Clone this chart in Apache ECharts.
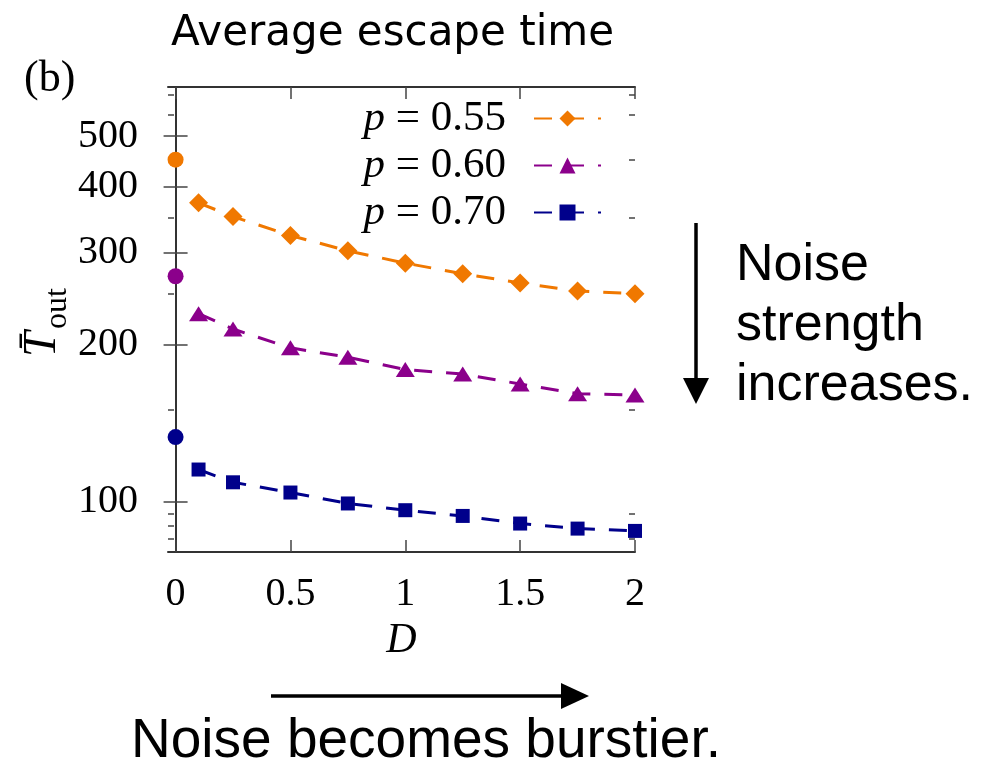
<!DOCTYPE html>
<html>
<head>
<meta charset="utf-8">
<script src="https://cdn.jsdelivr.net/npm/echarts@6/dist/echarts.min.js"></script>
<style>
  html, body { margin: 0; padding: 0; background: #fff; }
  #chart { width: 996px; height: 767px; }
</style>
</head>
<body>
<div id="chart"></div>
<script>
// Noise strength D on the x axis
const D = [0.1, 0.25, 0.5, 0.75, 1, 1.25, 1.5, 1.75, 2];
// Average escape time for each p (log-scaled y axis)
const T055 = [373, 351, 323, 302, 286, 273, 262, 253, 250];
const T060 = [229, 214, 197, 189, 179, 175.5, 168, 161, 160];
const T070 = [115.3, 109, 104.2, 99.3, 96.4, 94, 90.9, 88.9, 88];
// Noise-free values at D = 0, one per p
const T0 = [451, 270, 133];
const pLabels = ['0.55', '0.60', '0.70'];

// Tick positions
const xTicks = [0, 0.5, 1, 1.5, 2];
const yMajor = [100, 200, 300, 400, 500];
const yMinor = [85, 90, 95, 150, 250, 350, 450, 550, 600];

const colors = ['#f07800', '#8b008b', '#00008b'];
const serif = 'Liberation Serif';
const sans = 'Liberation Sans';
const frame = '#333';

const X_MIN = -0.033, X_MAX = 2;
const Y_MIN = 80.2, Y_MAX = 621;

function xAxisDef(pos, withLabels) {
  return {
    type: 'value', position: pos, min: X_MIN, max: X_MAX,
    axisLine: { show: true, lineStyle: { color: frame, width: 2 } },
    axisTick: { show: true, inside: true, length: 12, customValues: xTicks,
                lineStyle: { color: '#444', width: 1.5 } },
    axisLabel: withLabels
      ? { show: true, customValues: xTicks, margin: 22, color: '#000',
          fontFamily: serif, fontSize: 40 }
      : { show: false },
    splitLine: { show: false },
    name: withLabels ? 'D' : '',
    nameLocation: 'middle', nameGap: 68,
    nameTextStyle: { fontFamily: serif, fontStyle: 'italic', fontSize: 42, color: '#000' }
  };
}

function yAxisDef(pos, ticks, len, withLine, withLabels) {
  return {
    type: 'log', logBase: 10, position: pos, min: Y_MIN, max: Y_MAX,
    axisLine: { show: withLine, lineStyle: { color: frame, width: 2 } },
    axisTick: { show: true, inside: true, length: len, customValues: ticks,
                lineStyle: { color: '#444', width: 1.5 } },
    axisLabel: withLabels
      ? { show: true, customValues: yMajor, margin: 30, color: '#000',
          fontFamily: serif, fontSize: 40 }
      : { show: false },
    splitLine: { show: false }
  };
}

const symbols = ['diamond', 'triangle', 'rect'];
const symbolSizes = [19, [19, 15], 14];
const seriesData = [T055, T060, T070];

const lineSeries = seriesData.map((vals, k) => ({
  name: pLabels[k],
  type: 'line',
  xAxisIndex: 0, yAxisIndex: 0,
  data: D.map((d, i) => [d, vals[i]]),
  symbol: symbols[k],
  symbolSize: symbolSizes[k],
  showSymbol: true,
  lineStyle: { color: colors[k], width: 3, type: [18, 14] },
  itemStyle: { color: colors[k], opacity: 1 },
  z: 3
}));

const zeroSeries = {
  name: 'D0',
  type: 'scatter',
  xAxisIndex: 0, yAxisIndex: 0,
  symbol: 'circle', symbolSize: 16,
  data: T0.map((v, k) => ({ value: [0, v], itemStyle: { color: colors[k], opacity: 1 } })),
  z: 4
};

const chart = echarts.init(document.getElementById('chart'), null, { renderer: 'canvas' });

chart.setOption({
  animation: false,
  backgroundColor: '#fff',
  grid: { left: 168, top: 87, width: 467, height: 465, containLabel: false },
  xAxis: [xAxisDef('bottom', true), xAxisDef('top', false)],
  yAxis: [
    yAxisDef('left', yMajor, 12, true, true),
    yAxisDef('right', yMajor, 12, true, false),
    yAxisDef('left', yMinor, 6, false, false),
    yAxisDef('right', yMinor, 6, false, false)
  ],
  legend: {
    data: pLabels,
    orient: 'vertical',
    right: 389, top: 92,
    align: 'right',
    itemWidth: 67, itemHeight: 20, itemGap: 4,
    selectedMode: false,
    formatter: n => '{i|p} = ' + n,
    textStyle: {
      fontFamily: serif, fontSize: 43, color: '#000', lineHeight: 42,
      padding: [0, 23, 0, 0],
      rich: { i: { fontFamily: serif, fontStyle: 'italic', fontSize: 43, color: '#000' } }
    }
  },
  series: [...lineSeries, zeroSeries],
  graphic: [
    // Title
    { type: 'text', left: 171, top: 13,
      style: { text: 'Average escape time', fontFamily: 'DejaVu Sans', fontSize: 42, fill: '#000' } },
    // Panel letter
    { type: 'text', left: 24, top: 57,
      style: { text: '(b)', fontFamily: serif, fontSize: 44, fill: '#000' } },
    // Y axis title: T-bar with subscript "out", rotated
    { type: 'group', x: 66, y: 357, rotation: Math.PI / 2,
      children: [
        { type: 'text', x: 0, y: 0,
          style: { text: 'T\u0304', fontFamily: serif, fontStyle: 'italic', fontSize: 46, fill: '#000',
                   align: 'left', verticalAlign: 'bottom' } },
        { type: 'text', x: 28, y: 8,
          style: { text: 'out', fontFamily: serif, fontSize: 32, fill: '#000',
                   align: 'left', verticalAlign: 'bottom' } }
      ] },
    // Vertical arrow
    { type: 'line', shape: { x1: 696, y1: 223, x2: 696, y2: 382 },
      style: { stroke: '#000', lineWidth: 3.5 } },
    { type: 'polygon', shape: { points: [[683, 378], [709, 378], [696, 404]] },
      style: { fill: '#000' } },
    { type: 'text', x: 736, y: 236,
      style: { text: 'Noise\nstrength\nincreases.', fontFamily: sans, fontSize: 52, lineHeight: 60,
               fill: '#000', align: 'left', verticalAlign: 'top' } },
    // Horizontal arrow
    { type: 'line', shape: { x1: 271, y1: 696, x2: 566, y2: 696 },
      style: { stroke: '#000', lineWidth: 3.5 } },
    { type: 'polygon', shape: { points: [[561, 683], [561, 709], [589, 696]] },
      style: { fill: '#000' } },
    { type: 'text', x: 131, y: 742,
      style: { text: 'Noise becomes burstier.', fontFamily: sans, fontSize: 55,
               fill: '#000', align: 'left', verticalAlign: 'middle' } }
  ]
});
</script>
</body>
</html>
